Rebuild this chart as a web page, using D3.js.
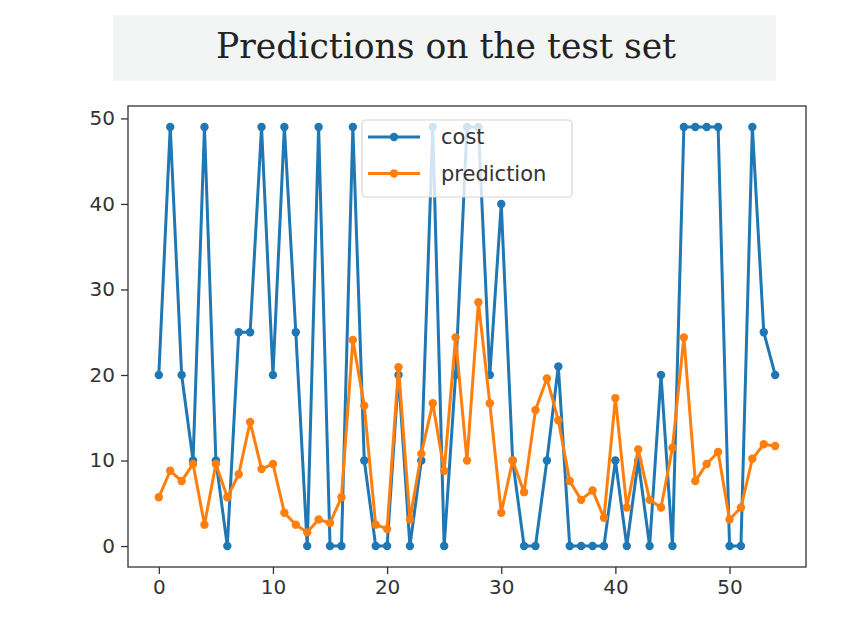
<!DOCTYPE html>
<html>
<head>
<meta charset="utf-8">
<script src="https://cdn.jsdelivr.net/npm/d3@7"></script>
<style>
    body { margin: 0; background: #fff; }
    svg { display: block; }
</style>
</head>
<body>
<div id="chart"></div>
<script>
// data
var indexes = d3.range(55);
var cost = [20, 49, 20, 10, 49, 10, 0, 25, 25, 49, 20, 49, 25, 0, 49, 0, 0, 49,
    10, 0, 0, 20, 0, 10, 49, 0, 20, 49, 49, 20, 40, 10, 0, 0, 10, 21, 0, 0,
    0, 0, 10, 0, 10, 0, 20, 0, 49, 49, 49, 49, 0, 0, 49, 25, 20];
var prediction = [5.7, 8.8, 7.6, 9.6, 2.5, 9.6, 5.7, 8.4, 14.5, 9.0, 9.6, 3.9, 2.5, 1.6, 3.1, 2.7, 5.7, 24.1,
    16.4, 2.5, 2.0, 20.9, 3.1, 10.8, 16.7, 8.8, 24.4, 10.0, 28.5, 16.7, 3.9, 10.0, 6.3, 15.9, 19.6, 14.7, 7.6, 5.4,
    6.5, 3.3, 17.3, 4.5, 11.3, 5.4, 4.5, 11.5, 24.4, 7.6, 9.6, 11.0, 3.1, 4.5, 10.2, 11.9, 11.7];
var xTicks = [0, 10, 20, 30, 40, 50];
var yTicks = [0, 10, 20, 30, 40, 50];
var seriesNames = ['cost', 'prediction'];
var seriesColors = ['#1f77b4', '#ff7f0e'];

var width = 859, height = 628,
    plot = {left: 128, right: 806, top: 106, bottom: 567};

var svg = d3.select('#chart').append('svg')
    .attr('width', width)
    .attr('height', height);

// title banner
svg.append('rect')
    .attr('x', 113).attr('y', 15)
    .attr('width', 663).attr('height', 66)
    .attr('fill', '#f3f5f4');

svg.append('text')
    .attr('x', 446).attr('y', 58)
    .attr('text-anchor', 'middle')
    .attr('textLength', 460)
    .attr('lengthAdjust', 'spacingAndGlyphs')
    .style('font-family', '"DejaVu Serif Condensed", "DejaVu Serif", serif')
    .style('font-size', '36px')
    .attr('fill', '#222')
    .text('Predictions on the test set');

// matplotlib-like 5% margins
var xScale = d3.scaleLinear()
    .domain([-2.7, 56.7])
    .range([plot.left, plot.right]);

var yScale = d3.scaleLinear()
    .domain([-2.45, 51.45])
    .range([plot.bottom, plot.top]);

var axisFont = '"DejaVu Sans", sans-serif';

var xAxis = svg.append('g')
    .attr('transform', 'translate(0,' + plot.bottom + ')')
    .call(d3.axisBottom(xScale).tickValues(xTicks).tickSize(7).tickPadding(6));
var yAxis = svg.append('g')
    .attr('transform', 'translate(' + plot.left + ',0)')
    .call(d3.axisLeft(yScale).tickValues(yTicks).tickSize(7).tickPadding(6));

[xAxis, yAxis].forEach(function (ax) {
    ax.select('.domain').remove();
    ax.selectAll('line').attr('stroke', '#333').attr('stroke-width', 1.3);
    ax.selectAll('text')
        .attr('fill', '#333')
        .style('font-family', axisFont)
        .style('font-size', '20px');
});

var line = d3.line()
    .x(function (d) { return xScale(d[0]); })
    .y(function (d) { return yScale(d[1]); });

var series = [cost, prediction].map(function (vals) {
    return indexes.map(function (i) { return [i, vals[i]]; });
});

series.forEach(function (pts, k) {
    var g = svg.append('g');
    g.append('path')
        .datum(pts)
        .attr('fill', 'none')
        .attr('stroke', seriesColors[k])
        .attr('stroke-width', 3)
        .attr('stroke-linejoin', 'round')
        .attr('d', line);
    g.selectAll('circle')
        .data(pts)
        .enter()
        .append('circle')
        .attr('cx', function (d) { return xScale(d[0]); })
        .attr('cy', function (d) { return yScale(d[1]); })
        .attr('r', 4.2)
        .attr('fill', seriesColors[k]);
});

// frame
svg.append('rect')
    .attr('x', plot.left).attr('y', plot.top)
    .attr('width', plot.right - plot.left)
    .attr('height', plot.bottom - plot.top)
    .attr('fill', 'none')
    .attr('stroke', '#333')
    .attr('stroke-width', 1.3);

// legend
var legend = svg.append('g').attr('transform', 'translate(362,120)');
legend.append('rect')
    .attr('width', 210).attr('height', 77)
    .attr('rx', 4)
    .attr('fill', 'rgba(255,255,255,0.8)')
    .attr('stroke', '#d6d6d6')
    .attr('stroke-width', 1.2);

seriesNames.forEach(function (name, k) {
    var y = 17 + k * 36.5;
    legend.append('line')
        .attr('x1', 6).attr('x2', 58)
        .attr('y1', y).attr('y2', y)
        .attr('stroke', seriesColors[k])
        .attr('stroke-width', 3);
    legend.append('circle')
        .attr('cx', 32).attr('cy', y)
        .attr('r', 4.2)
        .attr('fill', seriesColors[k]);
    legend.append('text')
        .attr('x', 79).attr('y', y + 7)
        .attr('fill', '#333')
        .style('font-family', axisFont)
        .style('font-size', '21px')
        .text(name);
});
</script>
</body>
</html>
